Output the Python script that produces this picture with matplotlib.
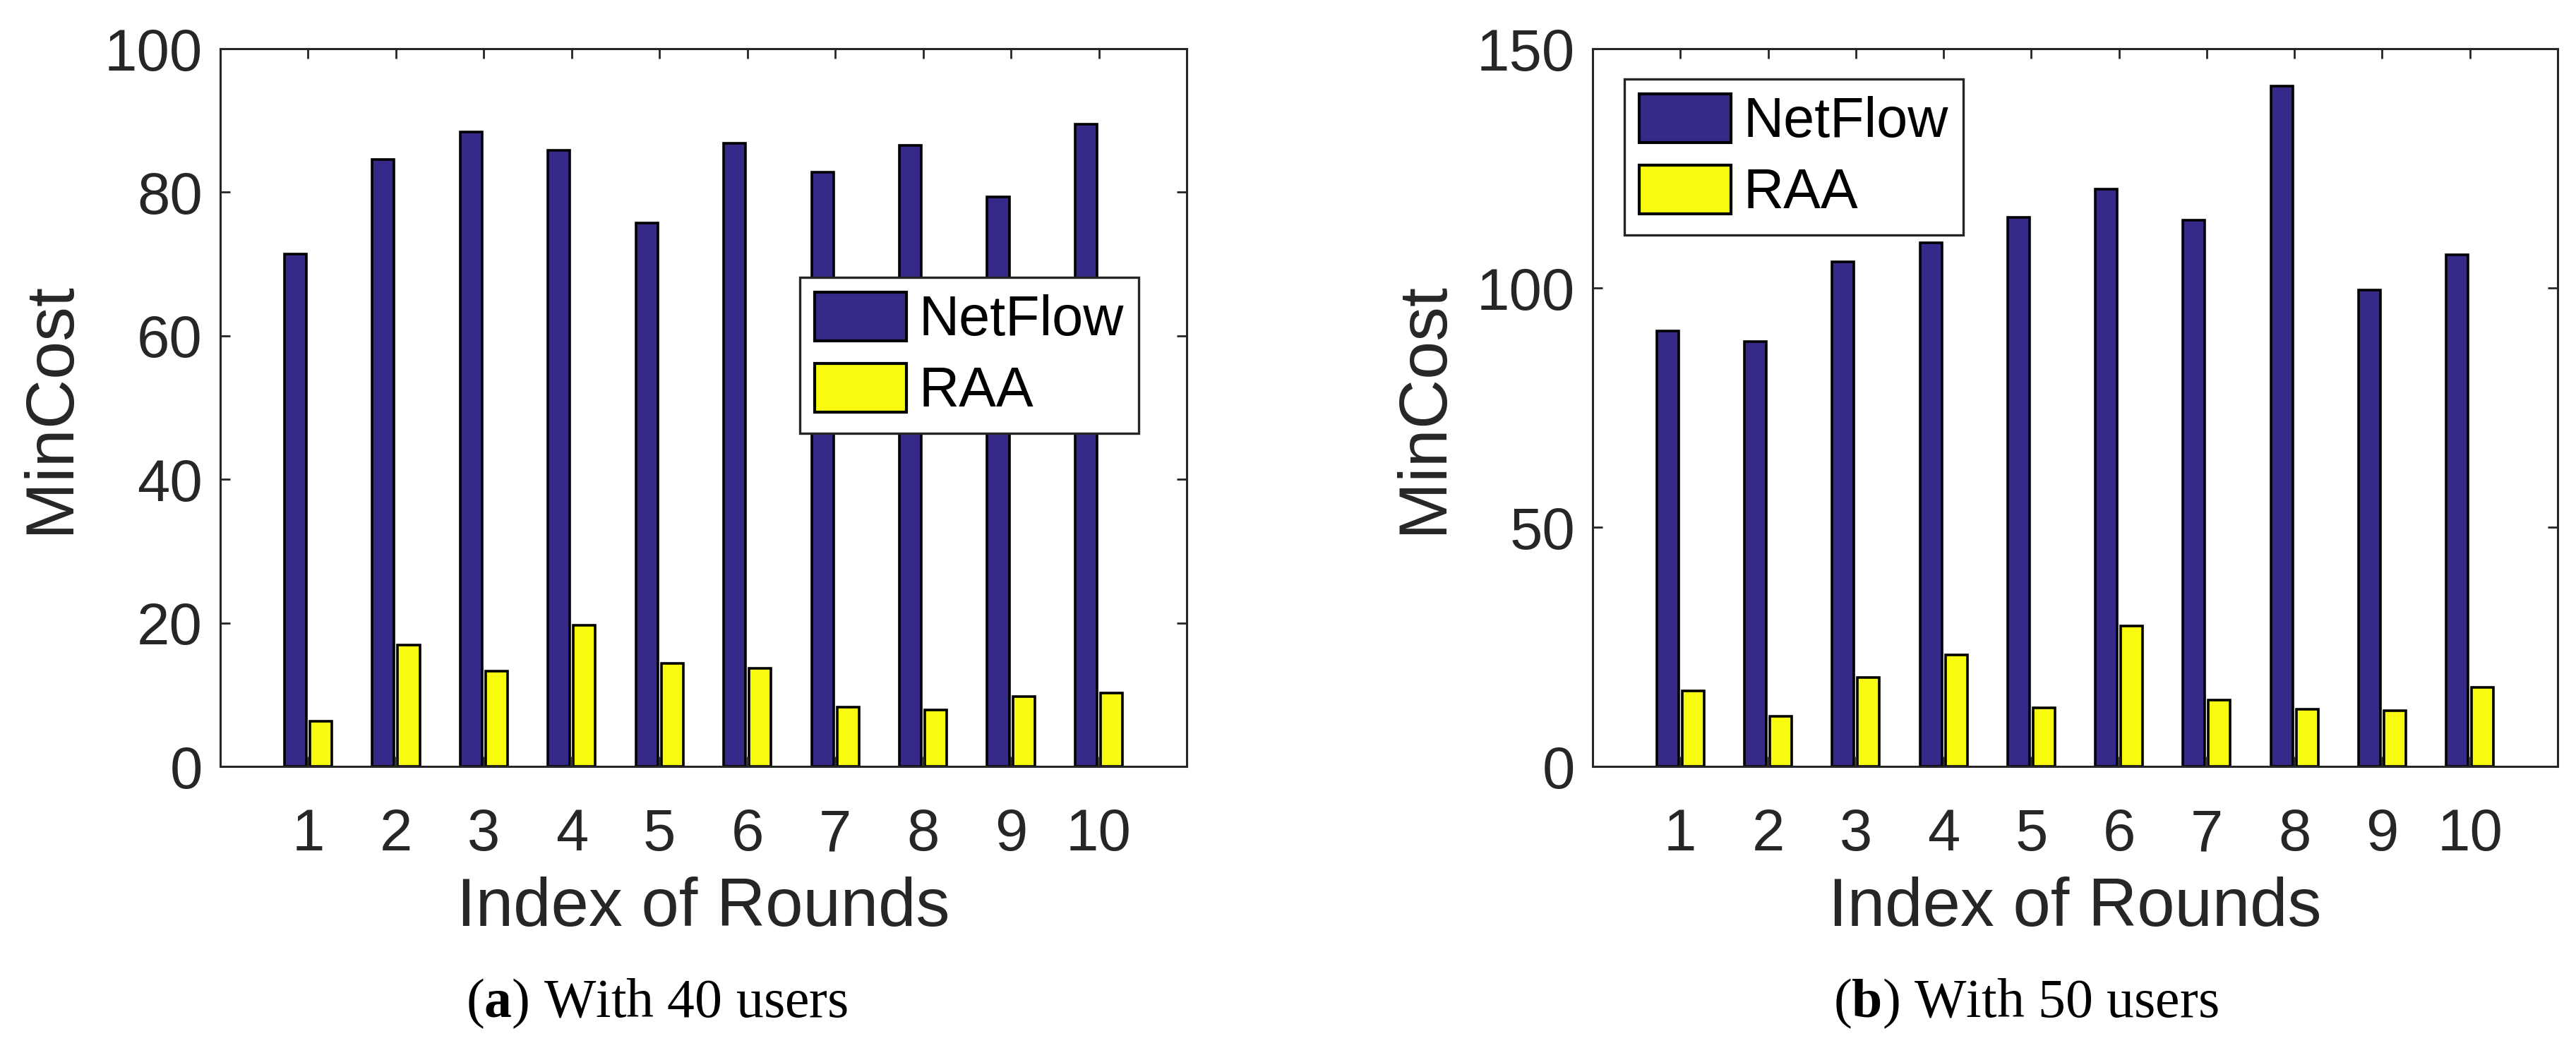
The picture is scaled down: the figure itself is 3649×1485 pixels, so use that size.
import numpy as np
import matplotlib
matplotlib.use("Agg")
import matplotlib.pyplot as plt

rounds = [1, 2, 3, 4, 5, 6, 7, 8, 9, 10]
series_names = ["NetFlow", "RAA"]

netflow_40 = [71.4, 84.6, 88.4, 85.8, 75.7, 86.8, 82.8, 86.5, 79.4, 89.5]
raa_40 = [6.3, 16.9, 13.3, 19.7, 14.4, 13.7, 8.3, 7.9, 9.7, 10.2]

netflow_50 = [91.0, 88.8, 105.5, 109.5, 114.7, 120.7, 114.2, 142.2, 99.5, 106.9]
raa_50 = [15.8, 10.4, 18.6, 23.3, 12.2, 29.4, 13.8, 11.9, 11.7, 16.5]

yticks_a = [0, 20, 40, 60, 80, 100]
yticks_b = [0, 50, 100, 150]

xlabel = "Index of Rounds"
ylabel = "MinCost"
captions = [("a", ") With 40 users"), ("b", ") With 50 users")]

C_NET = "#352A87"
C_RAA = "#F8FB0F"
TXT = "#262626"

plt.rcParams["font.family"] = ["Liberation Sans", "DejaVu Sans"]
plt.rcParams["mathtext.fontset"] = "custom"
plt.rcParams["mathtext.rm"] = "Liberation Serif"
plt.rcParams["mathtext.bf"] = "Liberation Serif:bold"

W, H = 3649, 1485
fig = plt.figure(figsize=(W / 100, H / 100), dpi=100)

def px_axes(l, r, t, b):
    return [l / W, 1 - b / H, (r - l) / W, (b - t) / H]

panels = [
    dict(rect=px_axes(312, 1681, 69, 1086), net=netflow_40, raa=raa_40,
         yticks=yticks_a, ylim=(0, 100), leg=(1133, 393), cap_x=931),
    dict(rect=px_axes(2256, 3623, 69, 1086), net=netflow_50, raa=raa_50,
         yticks=yticks_b, ylim=(0, 150), leg=(2301, 112), cap_x=2870),
]

x = np.array(rounds, dtype=float)
bw = 0.25
off = 0.145

for i, p in enumerate(panels):
    ax = fig.add_axes(p["rect"])
    ax.bar(x - off, p["net"], width=bw, color=C_NET, edgecolor="black",
           linewidth=2.6, label=series_names[0], zorder=2)
    ax.bar(x + off, p["raa"], width=bw, color=C_RAA, edgecolor="black",
           linewidth=2.6, label=series_names[1], zorder=2)
    ax.set_xlim(0, 11)
    ax.set_ylim(*p["ylim"])
    ax.set_xticks(rounds)
    ax.set_xticklabels([str(r) for r in rounds])
    ax.set_yticks(p["yticks"])
    ax.tick_params(direction="in", length=10, width=2, colors=TXT,
                   labelsize=60, top=True, right=True, zorder=3)
    ax.tick_params(axis="x", pad=42)
    ax.tick_params(axis="y", pad=18)
    for s in ax.spines.values():
        s.set_color(TXT)
        s.set_linewidth(2.2)
        s.set_zorder(4)
    ax.set_axisbelow(False)
    ax.set_ylabel(ylabel, fontsize=70, color=TXT, va="center")
    ax.yaxis.set_label_coords(-0.175, 0.5)
    ax.set_xlabel(xlabel, fontsize=69, color=TXT, va="center")
    ax.xaxis.set_label_coords(0.5, -0.198)
    lx, ly = p["leg"]
    leg = ax.legend(loc="upper left", bbox_to_anchor=(lx / W, 1 - ly / H),
                    bbox_transform=fig.transFigure, borderaxespad=0,
                    fontsize=57, handlelength=1.65, handleheight=0.97,
                    handletextpad=0.22, labelspacing=0.28, borderpad=0.26,
                    fancybox=False, framealpha=1, edgecolor=TXT)
    leg.get_frame().set_linewidth(2.4)
    for h in leg.legend_handles:
        h.set_linewidth(3)
    a, rest = captions[i]
    fig.text(p["cap_x"] / W, 1 - 1422 / H, r"($\mathbf{" + a + r"}$" + rest,
             fontsize=56, family="Liberation Serif", ha="center", va="center",
             color="black")

fig.savefig("out.png", dpi=100)
